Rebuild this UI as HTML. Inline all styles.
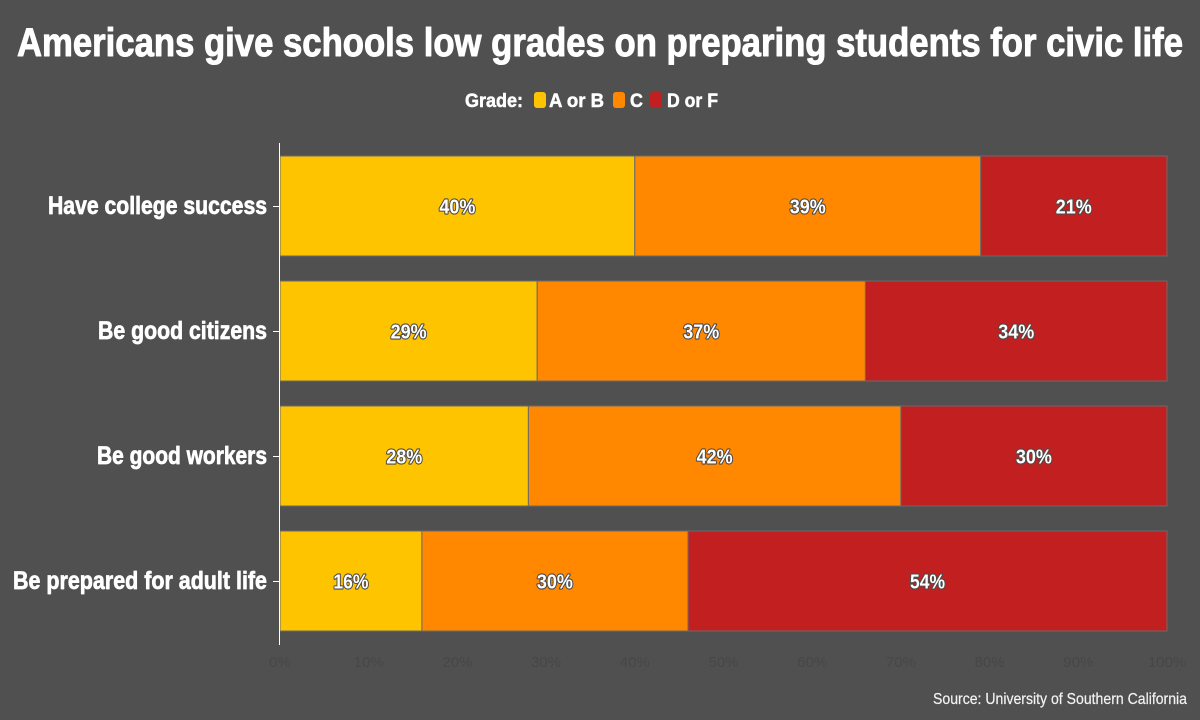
<!DOCTYPE html>
<html>
<head>
<meta charset="utf-8">
<style>
  html, body { margin: 0; padding: 0; background: #505050; }
  svg { display: block; }
  .t { font-family: "Liberation Sans Narrow", "Liberation Sans", sans-serif; font-weight: bold; fill: #ffffff; stroke: #ffffff; stroke-linejoin: round; }
  .v { font-family: "Liberation Sans Narrow", "Liberation Sans", sans-serif; font-weight: bold; font-size: 20px; fill: #ffffff; stroke: #4a4a4a; stroke-width: 2.2px; paint-order: stroke; stroke-linejoin: round; text-anchor: middle; }
  .tick { font-family: "Liberation Sans Narrow", "Liberation Sans", sans-serif; font-size: 15px; fill: #474747; text-anchor: middle; }
</style>
</head>
<body>
<svg width="1200" height="720" viewBox="0 0 1200 720" xmlns="http://www.w3.org/2000/svg">
  <rect x="0" y="0" width="1200" height="720" fill="#505050"/>

  <!-- Title -->
  <text class="t" x="17" y="56" font-size="40" stroke-width="1" textLength="1166" lengthAdjust="spacingAndGlyphs">Americans give schools low grades on preparing students for civic life</text>

  <!-- Legend -->
  <text class="t" x="465" y="107" font-size="19" stroke-width="0.5" textLength="58" lengthAdjust="spacingAndGlyphs">Grade:</text>
  <rect x="534" y="92" width="12" height="16" rx="3" fill="#ffc400"/>
  <text class="t" x="549" y="107" font-size="19" stroke-width="0.5" textLength="55" lengthAdjust="spacingAndGlyphs">A or B</text>
  <rect x="613" y="92" width="12" height="16" rx="3" fill="#ff8800"/>
  <text class="t" x="630" y="107" font-size="19" stroke-width="0.5" textLength="13" lengthAdjust="spacingAndGlyphs">C</text>
  <rect x="650" y="92" width="12" height="16" rx="3" fill="#c21f20"/>
  <text class="t" x="667" y="107" font-size="19" stroke-width="0.5" textLength="51" lengthAdjust="spacingAndGlyphs">D or F</text>

  <!-- Bars -->
  <g stroke="#6a6a6a" stroke-width="1">
    <rect x="280" y="156" width="354.8" height="100" fill="#ffc400"/>
    <rect x="634.8" y="156" width="345.9" height="100" fill="#ff8800"/>
    <rect x="980.7" y="156" width="186.3" height="100" fill="#c21f20"/>
    <rect x="280" y="281" width="257.2" height="100" fill="#ffc400"/>
    <rect x="537.2" y="281" width="328.2" height="100" fill="#ff8800"/>
    <rect x="865.4" y="281" width="301.6" height="100" fill="#c21f20"/>
    <rect x="280" y="406" width="248.4" height="100" fill="#ffc400"/>
    <rect x="528.4" y="406" width="372.5" height="100" fill="#ff8800"/>
    <rect x="900.9" y="406" width="266.1" height="100" fill="#c21f20"/>
    <rect x="280" y="531" width="141.9" height="100" fill="#ffc400"/>
    <rect x="421.9" y="531" width="266.1" height="100" fill="#ff8800"/>
    <rect x="688" y="531" width="479" height="100" fill="#c21f20"/>
  </g>

  <!-- Axis line & ticks -->
  <line x1="279.5" y1="143" x2="279.5" y2="645" stroke="#ffffff" stroke-width="1"/>
  <g stroke="#ffffff" stroke-width="1">
    <line x1="273" y1="206.5" x2="280" y2="206.5"/>
    <line x1="273" y1="331.5" x2="280" y2="331.5"/>
    <line x1="273" y1="456.5" x2="280" y2="456.5"/>
    <line x1="273" y1="581.5" x2="280" y2="581.5"/>
  </g>

  <!-- Category labels -->
  <text class="t" x="48" y="214" font-size="25" stroke-width="0.7" textLength="219" lengthAdjust="spacingAndGlyphs">Have college success</text>
  <text class="t" x="98" y="339" font-size="25" stroke-width="0.7" textLength="169" lengthAdjust="spacingAndGlyphs">Be good citizens</text>
  <text class="t" x="97" y="464" font-size="25" stroke-width="0.7" textLength="170" lengthAdjust="spacingAndGlyphs">Be good workers</text>
  <text class="t" x="13" y="589" font-size="25" stroke-width="0.7" textLength="254" lengthAdjust="spacingAndGlyphs">Be prepared for adult life</text>

  <!-- Value labels -->
  <text class="v" x="457.4" y="213.5" textLength="36" lengthAdjust="spacingAndGlyphs">40%</text>
  <text class="v" x="807.7" y="213.5" textLength="36" lengthAdjust="spacingAndGlyphs">39%</text>
  <text class="v" x="1073.8" y="213.5" textLength="36" lengthAdjust="spacingAndGlyphs">21%</text>

  <text class="v" x="408.6" y="338.5" textLength="36" lengthAdjust="spacingAndGlyphs">29%</text>
  <text class="v" x="701.3" y="338.5" textLength="36" lengthAdjust="spacingAndGlyphs">37%</text>
  <text class="v" x="1016.2" y="338.5" textLength="36" lengthAdjust="spacingAndGlyphs">34%</text>

  <text class="v" x="404.2" y="463.5" textLength="36" lengthAdjust="spacingAndGlyphs">28%</text>
  <text class="v" x="714.6" y="463.5" textLength="36" lengthAdjust="spacingAndGlyphs">42%</text>
  <text class="v" x="1033.9" y="463.5" textLength="36" lengthAdjust="spacingAndGlyphs">30%</text>

  <text class="v" x="350.9" y="588.5" textLength="35" lengthAdjust="spacingAndGlyphs">16%</text>
  <text class="v" x="554.9" y="588.5" textLength="36" lengthAdjust="spacingAndGlyphs">30%</text>
  <text class="v" x="927.5" y="588.5" textLength="35" lengthAdjust="spacingAndGlyphs">54%</text>

  <!-- X tick labels (very dark) -->
  <text class="tick" x="280" y="667">0%</text>
  <text class="tick" x="368.7" y="667">10%</text>
  <text class="tick" x="457.4" y="667">20%</text>
  <text class="tick" x="546.1" y="667">30%</text>
  <text class="tick" x="634.8" y="667">40%</text>
  <text class="tick" x="723.5" y="667">50%</text>
  <text class="tick" x="812.2" y="667">60%</text>
  <text class="tick" x="900.9" y="667">70%</text>
  <text class="tick" x="989.6" y="667">80%</text>
  <text class="tick" x="1078.3" y="667">90%</text>
  <text class="tick" x="1167" y="667">100%</text>

  <!-- Source -->
  <text x="933" y="704" font-family="'Liberation Sans Narrow', 'Liberation Sans', sans-serif" font-size="16" fill="#f2f2f2" stroke="#f2f2f2" stroke-width="0.2" textLength="254" lengthAdjust="spacingAndGlyphs">Source: University of Southern California</text>
</svg>
</body>
</html>
